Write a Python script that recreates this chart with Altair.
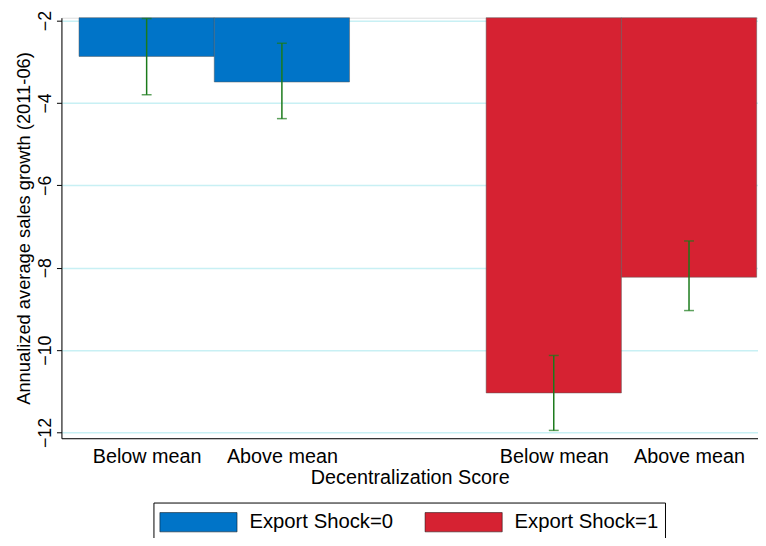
import altair as alt
import pandas as pd

groups = ["Export Shock=0", "Export Shock=0", "Export Shock=1", "Export Shock=1"]
labels = ["Below mean", "Above mean", "Below mean", "Above mean"]
starts = [0.13, 1.13, 3.14, 4.14]
means = [-2.87, -3.49, -11.04, -8.23]
err_hi = [-1.95, -2.55, -10.13, -7.35]
err_lo = [-3.80, -4.38, -11.95, -9.04]
base = -1.93

df = pd.DataFrame({
    "group": groups, "label": labels, "x0": starts,
    "x1": [s + 1 for s in starts], "xc": [s + 0.5 for s in starts],
    "mean": means, "hi": err_hi, "lo": err_lo, "base": [base] * 4,
})

ydom = [-12.14, base]
xscale = alt.Scale(domain=[0, 5.15], nice=False, zero=False)
centers = [s + 0.5 for s in starts]
label_expr = ("datum.value < 1 ? 'Below mean' : datum.value < 2 ? 'Above mean' : "
              "datum.value < 4 ? 'Below mean' : 'Above mean'")

bars = alt.Chart(df).mark_rect(stroke="#555", strokeWidth=0.5).encode(
    x=alt.X("x0:Q", scale=xscale, title="Decentralization Score",
            axis=alt.Axis(values=centers, labelExpr=label_expr, grid=False,
                          ticks=False, domainColor="black", labelFontSize=20,
                          titleFontSize=20, titleFontWeight="normal", labelColor="black",
                          titleColor="black", labelPadding=9, titlePadding=1)),
    x2="x1:Q",
    y=alt.Y("base:Q", scale=alt.Scale(domain=ydom, nice=False, zero=False),
            title="Annualized average sales growth (2011-06)",
            axis=alt.Axis(values=[-2, -4, -6, -8, -10, -12], labelAngle=-90,
                          labelAlign="center", labelBaseline="bottom", labelFontSize=18,
                          titleFontSize=18.5, titleFontWeight="normal", gridColor="#c8f0f4",
                          gridWidth=1.5, domainColor="black", tickColor="black",
                          labelColor="black", titleColor="black", titlePadding=3)),
    y2="mean:Q",
    color=alt.Color("group:N", title=None,
                    scale=alt.Scale(domain=["Export Shock=0", "Export Shock=1"],
                                    range=["#0074c8", "#d62232"]),
                    legend=alt.Legend(orient="none", legendX=93, legendY=490,
                                      direction="horizontal", labelFontSize=20.5,
                                      labelColor="black",
                                      symbolType="M-1,-0.75H5V0.75H-1Z",
                                      symbolSize=676, symbolStrokeColor="black",
                                      symbolStrokeWidth=0.5, symbolOpacity=1,
                                      columnPadding=30, labelOffset=64,
                                      strokeColor="black", padding=6)),
)

rules = alt.Chart(df).mark_rule(color="#1a7a1a", strokeWidth=1.5).encode(
    x="xc:Q", y="hi:Q", y2="lo:Q")
caps = alt.Chart(df).mark_tick(color="#1a7a1a", thickness=1.5, size=10, orient="horizontal").encode(
    x="xc:Q", y="hi:Q")
caps2 = alt.Chart(df).mark_tick(color="#1a7a1a", thickness=1.5, size=10, orient="horizontal").encode(
    x="xc:Q", y="lo:Q")

chart = (bars + rules + caps + caps2).properties(
    width=704, height=425,
    autosize=alt.AutoSizeParams(type="none"),
    padding={"left": 54, "top": 7, "right": 0, "bottom": 98},
).configure_view(stroke=None).configure(font="Liberation Sans")

chart.save("out.html", embed_options={"renderer": "svg", "actions": False})
